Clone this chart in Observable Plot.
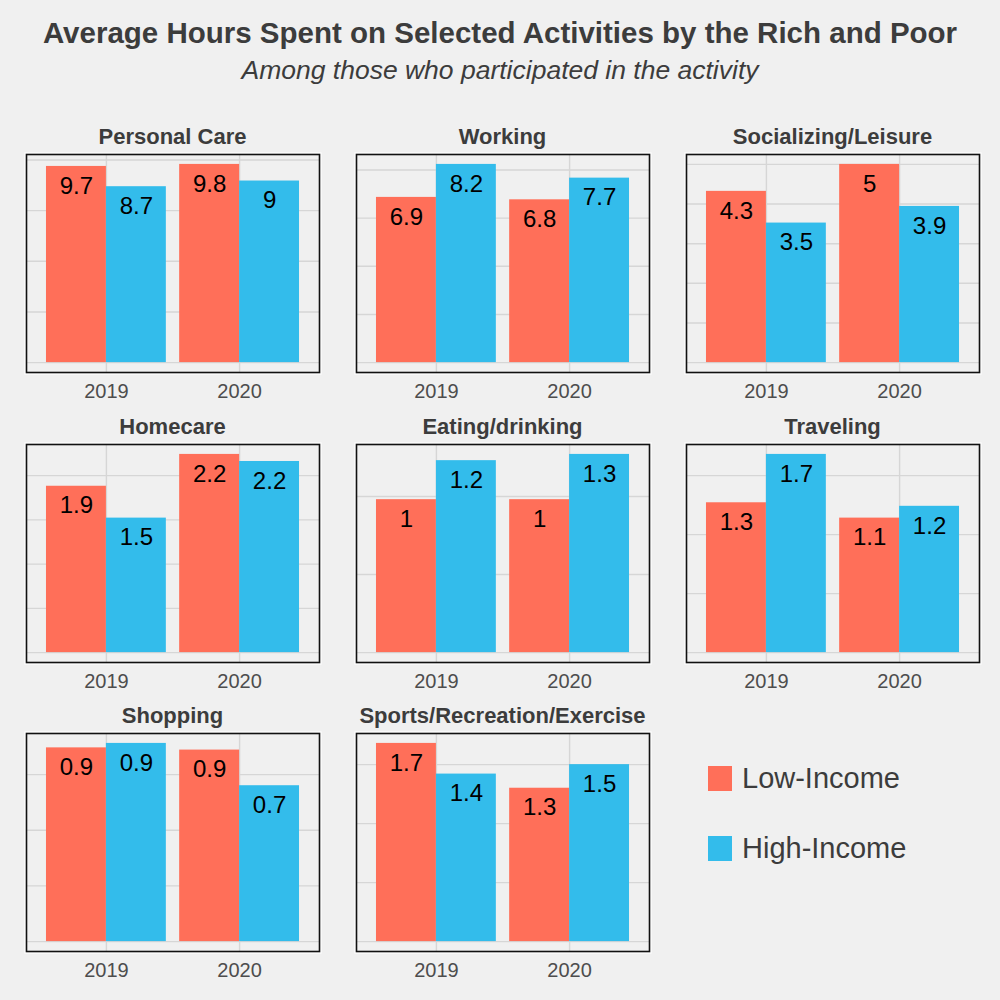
<!DOCTYPE html>
<html>
<head>
<meta charset="utf-8">
<script src="https://cdn.jsdelivr.net/npm/d3@7"></script>
<script src="https://cdn.jsdelivr.net/npm/@observablehq/plot@0.6"></script>
<style>
html, body { margin: 0; padding: 0; background: #f0f0f0; }
#root { position: relative; width: 1000px; height: 1000px; background: #f0f0f0;
  font-family: "Liberation Sans", Arial, sans-serif; color: #3c3c3c; overflow: hidden; }
.title { position: absolute; left: 0; width: 1000px; text-align: center; top: 15px;
  font-size: 29.5px; font-weight: bold; line-height: 36px; }
.subtitle { position: absolute; left: 0; width: 1000px; text-align: center; top: 54px;
  font-size: 26.5px; font-style: italic; line-height: 32px; }
.strip { position: absolute; text-align: center; font-weight: bold; font-size: 22px; line-height: 26px; color: #3c3c3c; }
.panel { position: absolute; }
.legend-item { position: absolute; display: flex; align-items: center; }
.legend-swatch { width: 24px; height: 25px; margin-right: 10px; }
.legend-label { font-size: 29px; line-height: 34px; color: #3c3c3c; }
</style>
</head>
<body>
<div id="root">
  <div class="title">Average Hours Spent on Selected Activities by the Rich and Poor</div>
  <div class="subtitle">Among those who participated in the activity</div>
</div>
<script>
// ---- data ----
const activities = ["Personal Care", "Working", "Socializing/Leisure", "Homecare",
  "Eating/drinking", "Traveling", "Shopping", "Sports/Recreation/Exercise"];
const years = ["2019", "2020"];
const groups = ["Low-Income", "High-Income"];
const low2019  = [9.68, 6.86, 4.32, 1.88, 0.98, 1.27, 0.87, 1.68];
const low2020  = [9.78, 6.76, 5.00, 2.24, 0.98, 1.14, 0.86, 1.30];
const high2019 = [8.68, 8.23, 3.52, 1.52, 1.23, 1.68, 0.89, 1.42];
const high2020 = [8.96, 7.66, 3.94, 2.16, 1.27, 1.24, 0.70, 1.50];
const gridSteps = [2.5, 2, 1, 0.5, 0.5, 0.5, 0.25, 0.5];

// ---- styles / layout ----
const colors = ["#FF6F59", "#33BCEB"];
const gridColor = "#d6d6d6";
const boxW = 293, boxH = 218, M = 3, labelSpace = 34;
const colLeft = [26, 356, 686];
const rowTop = [154, 444, 733];
const pIn = 0.1, pOut = 0.15;
const bw = boxW / (years.length - pIn + 2 * pOut) * (1 - pIn);
const fmt = v => String(Math.round(v * 10) / 10);

const root = document.getElementById("root");

activities.forEach((name, i) => {
  const col = i % 3, row = Math.floor(i / 3);
  const left = colLeft[col], top = rowTop[row];
  const lowRows = years.map((y, j) => ({year: y, value: [low2019, low2020][j][i], group: groups[0]}));
  const highRows = years.map((y, j) => ({year: y, value: [high2019, high2020][j][i], group: groups[1]}));
  const m = d3.max([...lowRows, ...highRows], d => d.value);
  const domain = [-0.05 * m, 1.05 * m];
  const ticks = d3.range(0, domain[1] + 1e-9, gridSteps[i]);

  const strip = document.createElement("div");
  strip.className = "strip";
  strip.style.left = (left - 40) + "px";
  strip.style.width = (boxW + 80) + "px";
  strip.style.top = (top - 30) + "px";
  strip.textContent = name;
  root.appendChild(strip);

  const svg = Plot.plot({
    width: boxW + 2 * M,
    height: boxH + M + labelSpace,
    marginLeft: M, marginRight: M, marginTop: M, marginBottom: labelSpace,
    style: {background: "transparent", fontFamily: '"Liberation Sans", Arial, sans-serif', fontSize: "20px", color: "#4d4d4d", overflow: "visible"},
    x: {domain: years, paddingInner: pIn, paddingOuter: pOut, round: false, label: null, tickSize: 0, tickPadding: 11},
    y: {domain, axis: null},
    marks: [
      Plot.gridY(ticks, {stroke: gridColor, strokeOpacity: 1, strokeWidth: 1.4}),
      Plot.gridX({stroke: gridColor, strokeOpacity: 1, strokeWidth: 1.4}),
      Plot.barY(lowRows, {x: "year", y: "value", fill: colors[0], insetRight: bw / 2}),
      Plot.barY(highRows, {x: "year", y: "value", fill: colors[1], insetLeft: bw / 2}),
      Plot.text(lowRows, {x: "year", y: "value", text: d => fmt(d.value), dx: -bw / 4, dy: 19.5, fontSize: 24, fill: "black"}),
      Plot.text(highRows, {x: "year", y: "value", text: d => fmt(d.value), dx: bw / 4, dy: 19.5, fontSize: 24, fill: "black"}),
      Plot.frame({stroke: "#ffffff", strokeWidth: 1, inset: -1.6}),
      Plot.frame({stroke: "#111", strokeWidth: 1.6})
    ]
  });
  svg.classList.add("panel");
  svg.style.position = "absolute";
  svg.style.left = (left - M) + "px";
  svg.style.top = (top - M) + "px";
  root.appendChild(svg);
});

// legend
groups.forEach((g, k) => {
  const item = document.createElement("div");
  item.className = "legend-item";
  item.style.left = "708px";
  item.style.top = (761 + k * 70) + "px";
  const sw = document.createElement("div");
  sw.className = "legend-swatch";
  sw.style.background = colors[k];
  const lab = document.createElement("span");
  lab.className = "legend-label";
  lab.textContent = g;
  item.appendChild(sw);
  item.appendChild(lab);
  root.appendChild(item);
});
</script>
</body>
</html>
